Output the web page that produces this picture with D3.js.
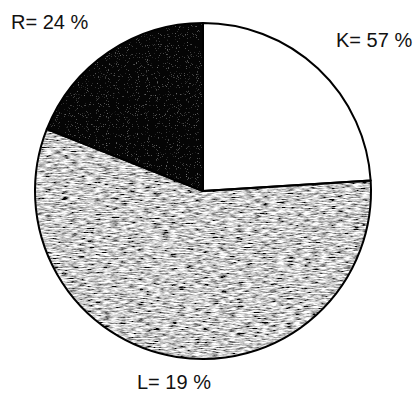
<!DOCTYPE html>
<html>
<head>
<meta charset="utf-8">
<script src="https://cdn.jsdelivr.net/npm/d3@7"></script>
<style>
  html, body { margin: 0; padding: 0; background: #fff; }
  svg { display: block; }
  text { font-family: "Liberation Sans", Arial, sans-serif; fill: #111; }
</style>
</head>
<body>
<svg id="chart" width="418" height="393"></svg>
<script>
// Slice shares as drawn (clockwise from 12 o'clock)
const sliceNames = ["white", "grey", "black"];
const sliceValues = [24, 57, 19];
// Label texts as printed on the chart
const labelTexts = ["K= 57 %", "L= 19 %", "R= 24 %"];

const W = 418, H = 393;
const cx = 203, cy = 191, R = 168;
const svg = d3.select("#chart");

const defs = svg.append("defs");
const f = defs.append("filter").attr("id", "greyTex")
  .attr("x", "0").attr("y", "0").attr("width", "1").attr("height", "1");
f.append("feTurbulence").attr("type", "fractalNoise")
  .attr("baseFrequency", "0.12 0.8").attr("numOctaves", 3).attr("seed", 3).attr("result", "n");
f.append("feColorMatrix").attr("in", "n").attr("type", "matrix")
  .attr("values", "2.2 0 0 0 -0.5  2.2 0 0 0 -0.5  2.2 0 0 0 -0.5  0 0 0 0 1").attr("result", "g");
f.append("feComposite").attr("in", "g").attr("in2", "SourceGraphic").attr("operator", "in");

const f2 = defs.append("filter").attr("id", "darkTex")
  .attr("x", "0").attr("y", "0").attr("width", "1").attr("height", "1");
f2.append("feTurbulence").attr("type", "fractalNoise")
  .attr("baseFrequency", "0.9").attr("numOctaves", 1).attr("seed", 7).attr("result", "n");
f2.append("feColorMatrix").attr("in", "n").attr("type", "matrix")
  .attr("values", "5 0 0 0 -3.2  5 0 0 0 -3.2  5 0 0 0 -3.2  0 0 0 0 1").attr("result", "g");
f2.append("feComposite").attr("in", "g").attr("in2", "SourceGraphic").attr("operator", "in");

const pie = d3.pie().sort(null).value(d => d)(sliceValues);
const arc = d3.arc().innerRadius(0).outerRadius(R);
const fills = { white: "#ffffff", grey: "#a0a0a0", black: "#0a0a0a" };

const g = svg.append("g").attr("transform", `translate(${cx},${cy})`);
pie.forEach((p, i) => {
  const name = sliceNames[i];
  g.append("path").attr("d", arc(p)).attr("fill", fills[name]);
  if (name === "grey") {
    g.append("path").attr("d", arc(p)).attr("fill", "#000").attr("filter", "url(#greyTex)");
  }
  if (name === "black") {
    g.append("path").attr("d", arc(p)).attr("fill", "#000").attr("filter", "url(#darkTex)").attr("opacity", 0.45);
  }
});
pie.forEach((p, i) => {
  g.append("path").attr("d", arc(p)).attr("fill", "none")
    .attr("stroke", "#000").attr("stroke-width", 2).attr("stroke-linejoin", "round");
});

// Labels
const labelPos = [[336, 47], [137, 389], [11, 29]];
labelTexts.forEach((t, i) => {
  svg.append("text").attr("x", labelPos[i][0]).attr("y", labelPos[i][1])
    .attr("font-size", 20).text(t);
});
</script>
</body>
</html>
